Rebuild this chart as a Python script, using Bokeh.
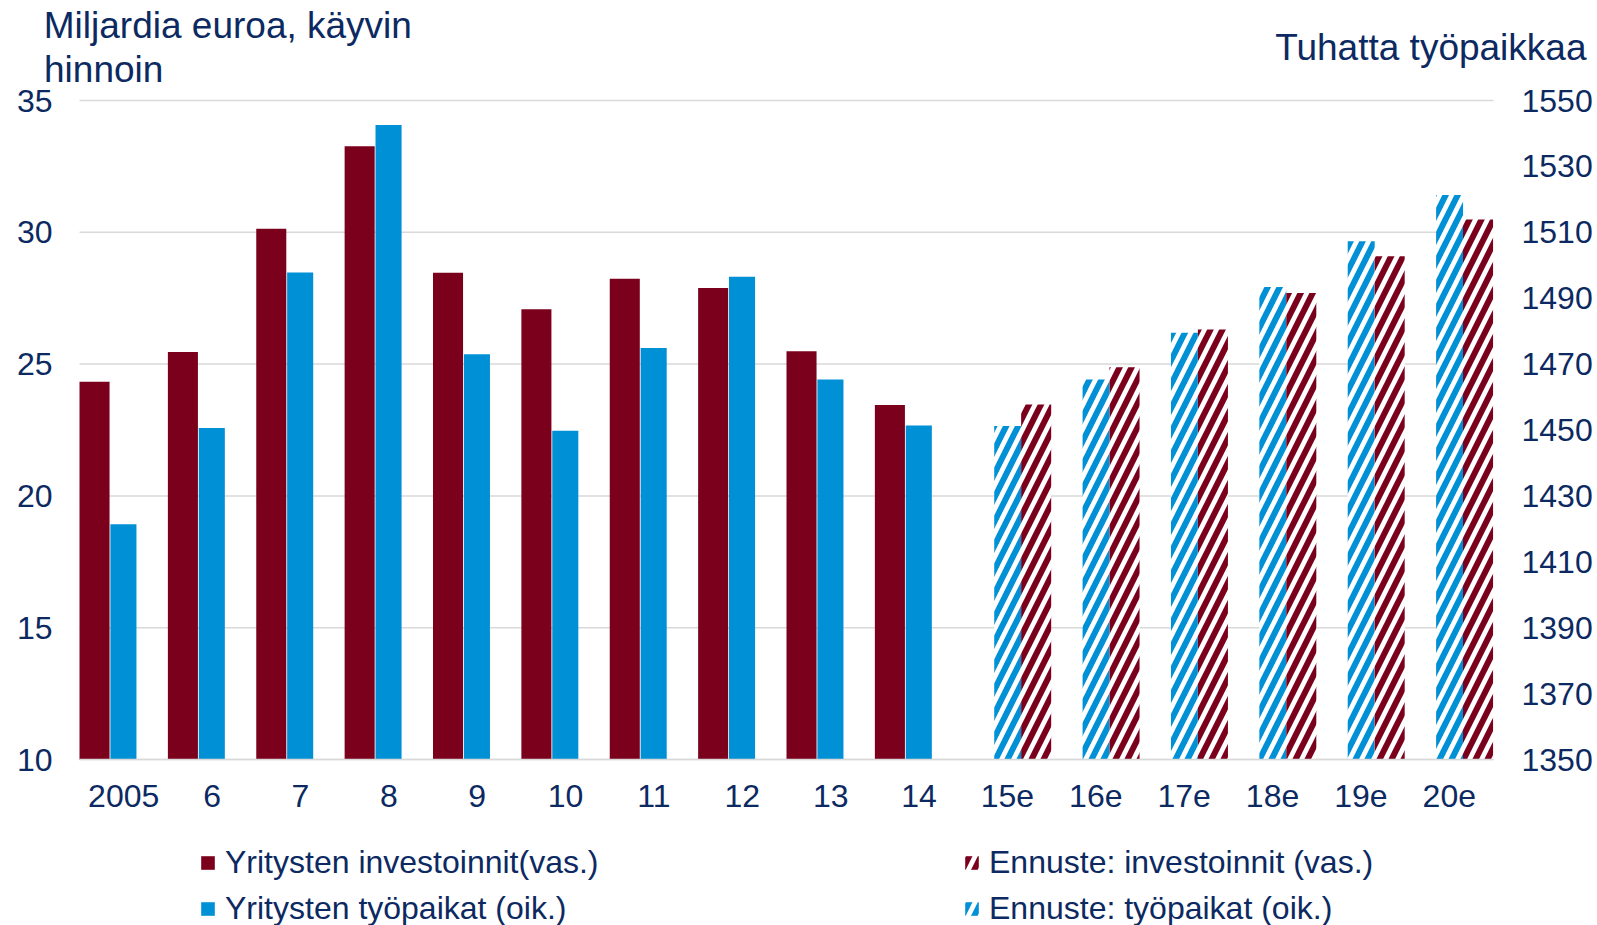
from bokeh.plotting import figure
from bokeh.models import (Range1d, LinearAxis, Legend, LegendItem,
                          Label, FixedTicker, ColumnDataSource)
from bokeh.transform import dodge
from bokeh.embed import file_html
from bokeh.resources import INLINE

# ---- data ----
categories = ["2005", "6", "7", "8", "9", "10", "11", "12", "13", "14",
              "15e", "16e", "17e", "18e", "19e", "20e"]
n_hist = 10
investments_hist = [24.33, 25.46, 30.13, 33.26, 28.47, 27.08, 28.24, 27.89, 25.49, 23.45]
jobs_hist = [1421.4, 1450.6, 1497.8, 1542.6, 1473.0, 1449.8, 1474.9, 1496.5, 1465.3, 1451.4]
investments_fc = [23.47, 24.88, 26.31, 27.70, 29.09, 30.49]
jobs_fc = [1451.2, 1465.3, 1479.5, 1493.4, 1507.3, 1521.3]
left_ticks = [10, 15, 20, 25, 30, 35]
right_ticks = list(range(1350, 1551, 20))

RED = "#7a001c"
BLUE = "#0090d6"
NAVY = "#0c2a61"
GRID = "#d9d9d9"
FONT = "Liberation Sans"

# ---- geometry (the frame covers the whole canvas, axes are pinned) ----
W, H = 1597, 925
PLOT_L, PLOT_R = 79, 1493      # category area
TOP, BASE = 100, 759           # y of value 35 / value 10
ncat = len(categories)
cw = (PLOT_R - PLOT_L) / ncat
x_lo = -0.5 - PLOT_L / cw
x_hi = ncat - 0.5 + (W - PLOT_R) / cw
lpx = (BASE - TOP) / 25.0
rpx = (BASE - TOP) / 200.0
y_lo, y_hi = 10 - (H - BASE) / lpx, 35 + TOP / lpx
r_lo, r_hi = 1350 - (H - BASE) / rpx, 1550 + TOP / rpx

p = figure(width=W, height=H, x_range=Range1d(x_lo, x_hi), y_range=Range1d(y_lo, y_hi),
           title=None, output_backend="svg", toolbar_location=None, min_border=0)
p.outline_line_color = None
p.extra_y_ranges = {"right": Range1d(r_lo, r_hi)}
p.xgrid.visible = False
p.ygrid.visible = False

idx_hist = list(range(n_hist))
idx_fc = list(range(n_hist, ncat))
src_ih = ColumnDataSource(dict(x=idx_hist, val=investments_hist))
src_jh = ColumnDataSource(dict(x=idx_hist, val=jobs_hist))
src_if = ColumnDataSource(dict(x=idx_fc, val=investments_fc))
src_jf = ColumnDataSource(dict(x=idx_fc, val=jobs_fc))

# horizontal grid lines over the category area
p.segment(x0=-0.5, x1=ncat - 0.5, y0=left_ticks, y1=left_ticks,
          line_color=GRID, line_width=1.5, level="underlay")

HATCH_SCALE, HATCH_W = 24, 6
r_ih = p.vbar(x=dodge("x", -0.33), top="val", bottom=10, width=0.34,
              source=src_ih, fill_color=RED, line_color=None)
r_jh = p.vbar(x=dodge("x", -0.003), top="val", bottom=1350, width=0.295,
              source=src_jh, fill_color=BLUE, line_color=None, y_range_name="right")
r_jf = p.vbar(x=dodge("x", 0.003), top="val", bottom=1350, width=0.305,
              source=src_jf, fill_color="white", line_color=None, y_range_name="right",
              hatch_pattern="/", hatch_color=BLUE, hatch_weight=HATCH_W,
              hatch_scale=HATCH_SCALE)
r_if = p.vbar(x=dodge("x", 0.325), top="val", bottom=10, width=0.34,
              source=src_if, fill_color="white", line_color=None,
              hatch_pattern="/", hatch_color=RED, hatch_weight=HATCH_W,
              hatch_scale=HATCH_SCALE)

# left axis pinned at the left edge of the category area
ya = p.yaxis[0]
ya.fixed_location = -0.5
ya.ticker = FixedTicker(ticks=left_ticks)
ya.axis_line_color = None
ya.major_tick_line_color = None
ya.major_tick_out = 0
ya.major_tick_in = 0
ya.minor_tick_line_color = None
ya.major_label_standoff = 27
ya.major_label_text_font = FONT
ya.major_label_text_font_size = "32px"
ya.major_label_text_color = NAVY

# right axis pinned at the right edge
ra = LinearAxis(y_range_name="right", ticker=FixedTicker(ticks=right_ticks),
                fixed_location=ncat - 0.5)
ra.axis_line_color = None
ra.major_tick_line_color = None
ra.major_tick_out = 0
ra.major_tick_in = 0
ra.minor_tick_line_color = None
ra.major_label_standoff = 28
ra.major_label_text_font = FONT
ra.major_label_text_font_size = "32px"
ra.major_label_text_color = NAVY
p.add_layout(ra, "right")

# x axis pinned at value 10
xa = p.xaxis[0]
xa.fixed_location = 10
xa.bounds = (-0.5, ncat - 0.5)
xa.ticker = FixedTicker(ticks=list(range(ncat)))
xa.major_label_overrides = {i: c for i, c in enumerate(categories)}
xa.axis_line_color = GRID
xa.axis_line_width = 1.5
xa.major_tick_line_color = None
xa.minor_tick_line_color = None
xa.major_label_standoff = 19
xa.major_label_text_font = FONT
xa.major_label_text_font_size = "32px"
xa.major_label_text_color = NAVY

# axis titles (baseline y given in page pixels, corrected for label placement)
def title_label(txt, x, y_page, align):
    return Label(x=x, y=H - (y_page - 13), x_units="screen", y_units="screen", text=txt,
                 text_font=FONT, text_font_size="37px", text_color=NAVY,
                 text_align=align, text_baseline="alphabetic")

p.add_layout(title_label("Miljardia euroa, käyvin", 43.3, 38.3, "left"))
p.add_layout(title_label("hinnoin", 43.5, 81.7, "left"))
p.add_layout(title_label("Tuhatta työpaikkaa", 1586, 60, "right"))

# legends
def make_legend(items, x):
    leg = Legend(items=items, location=(x, -1.5), orientation="vertical",
                 label_text_font=FONT, label_text_font_size="32px",
                 label_text_color=NAVY, glyph_width=17, glyph_height=17,
                 label_height=36, label_standoff=9, spacing=9, padding=0, margin=0,
                 border_line_color=None, background_fill_alpha=0)
    p.add_layout(leg)

make_legend([LegendItem(label="Yritysten investoinnit(vas.)", renderers=[r_ih]),
             LegendItem(label="Yritysten työpaikat (oik.)", renderers=[r_jh])], 199)
make_legend([LegendItem(label="Ennuste: investoinnit (vas.)", renderers=[r_if]),
             LegendItem(label="Ennuste: työpaikat (oik.)", renderers=[r_jf])], 963)

open("out.html", "w").write(file_html(p, INLINE))
